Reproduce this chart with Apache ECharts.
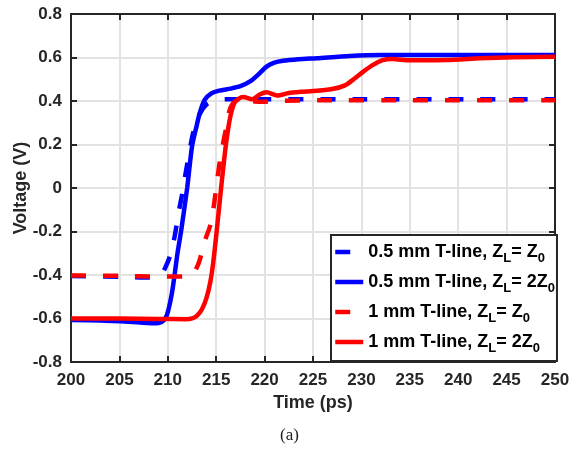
<!DOCTYPE html>
<html>
<head>
<meta charset="utf-8">
<script src="https://cdn.jsdelivr.net/npm/echarts@6/dist/echarts.min.js"></script>
<style>
  html, body { margin: 0; padding: 0; background: #fff; }
  #chart { width: 579px; height: 452px; }
</style>
</head>
<body>
<div id="chart"></div>
<script>
// Axis ticks
const xTicks = ['200', '205', '210', '215', '220', '225', '230', '235', '240', '245', '250'];
const yTicks = ['-0.8', '-0.6', '-0.4', '-0.2', '0', '0.2', '0.4', '0.6', '0.8'];

// Legend entries (rich text with subscripts)
const seriesNames = [
  '0.5 mm T-line, ZL = Z0',
  '0.5 mm T-line, ZL = 2Z0',
  '1 mm T-line, ZL = Z0',
  '1 mm T-line, ZL = 2Z0'
];
const legendLabels = [
  '0.5 mm T-line, Z{sub|L}{eq|= Z}{sub|0}',
  '0.5 mm T-line, Z{sub|L}{eq|= 2Z}{sub|0}',
  '1 mm T-line, Z{sub|L}{eq|= Z}{sub|0}',
  '1 mm T-line, Z{sub|L}{eq|= 2Z}{sub|0}'
];

// 0.5 mm T-line, matched load (ps, V)
const tShortMatched = [200, 205, 208, 209.2, 209.7, 210.2, 210.7, 211.1, 211.5, 211.9, 212.6, 213.3, 214.0, 214.8, 216, 220, 230, 240, 250];
const vShortMatched = [-0.405, -0.408, -0.412, -0.405, -0.37, -0.316, -0.224, -0.116, -0.024, 0.083, 0.25, 0.34, 0.385, 0.403, 0.408, 0.408, 0.408, 0.408, 0.408];

// 0.5 mm T-line, 2Z0 load
const tShortOpen = [200, 203, 206, 208.5, 209.4, 209.9, 210.4, 210.7, 211.0, 211.4, 212.0, 212.5, 213.0, 213.3, 213.8, 214.5, 215.3, 216.5, 217.5, 218.5, 219.3, 220.2, 221.0, 221.9, 223.5, 225.4, 228.8, 232, 240, 250];
const vShortOpen = [-0.607, -0.609, -0.615, -0.622, -0.615, -0.585, -0.49, -0.40, -0.30, -0.19, 0.0, 0.19, 0.29, 0.345, 0.405, 0.435, 0.448, 0.457, 0.468, 0.49, 0.52, 0.558, 0.576, 0.585, 0.592, 0.597, 0.607, 0.611, 0.611, 0.611];

// 1 mm T-line, matched load
const tLongMatched = [200, 205, 209, 212.0, 212.6, 213.0, 213.3, 213.8, 214.4, 214.7, 215.0, 215.3, 215.6, 216.0, 216.4, 216.9, 217.6, 219, 220, 222, 226, 235, 250];
const vLongMatched = [-0.402, -0.404, -0.407, -0.407, -0.395, -0.365, -0.331, -0.247, -0.17, -0.10, 0.0, 0.1, 0.18, 0.27, 0.36, 0.397, 0.405, 0.398, 0.397, 0.401, 0.403, 0.403, 0.403];

// 1 mm T-line, 2Z0 load
const tLongOpen = [200, 205, 209, 211.9, 212.6, 213.0, 213.5, 214.0, 214.4, 214.7, 215.0, 215.3, 215.6, 215.95, 216.3, 216.6, 216.9, 217.3, 217.8, 218.7, 219.5, 220.2, 221.3, 222.5, 223.7, 225.4, 227.1, 228.3, 229.2, 230.2, 231.2, 232.2, 233.2, 235.0, 238.8, 242.3, 245.7, 250];
const vLongOpen = [-0.600, -0.600, -0.602, -0.603, -0.598, -0.588, -0.560, -0.505, -0.43, -0.34, -0.22, -0.09, 0.04, 0.18, 0.29, 0.355, 0.392, 0.41, 0.418, 0.408, 0.43, 0.44, 0.425, 0.437, 0.442, 0.447, 0.456, 0.472, 0.500, 0.535, 0.566, 0.588, 0.593, 0.587, 0.588, 0.596, 0.601, 0.604];

const zip = (t, v) => t.map((x, i) => [x, v[i]]);

const BLUE = '#0000ff';
const RED = '#ff0000';
const AXIS = '#262626';
const GRIDC = '#e2e2e2';
const FONT = '"Liberation Sans", Arial, Helvetica, sans-serif';
const DASH = [15, 17];

function lineSeries(name, data, color, dashed) {
  return {
    name: name,
    type: 'line',
    data: data,
    xAxisIndex: 0,
    yAxisIndex: 0,
    showSymbol: false,
    symbol: 'none',
    smooth: 0.25,
    lineStyle: { color: color, width: 4.5, type: dashed ? DASH : 'solid', cap: 'butt' },
    itemStyle: { color: color },
    emphasis: { disabled: true },
    animation: false,
    z: 3
  };
}

const chart = echarts.init(document.getElementById('chart'), null, { renderer: 'canvas' });

const tickFmtX = v => { const i = xTicks.indexOf(String(Math.round(v))); return i >= 0 ? xTicks[i] : ''; };
const tickFmtY = v => { const s = String(Math.round(v * 10) / 10); return yTicks.indexOf(s) >= 0 ? s : ''; };

const frameAxis = {
  show: true,
  axisLine: { show: true, onZero: false, lineStyle: { color: AXIS, width: 2 } },
  axisTick: { show: true, inside: true, length: 6, lineStyle: { color: AXIS, width: 2 } },
  axisLabel: { show: false },
  splitLine: { show: false }
};

chart.setOption({
  animation: false,
  backgroundColor: '#ffffff',
  grid: { left: 71, right: 24, top: 14, bottom: 90, containLabel: false, outerBoundsMode: 'none' },
  xAxis: [
    {
      type: 'value', min: 200, max: 250, interval: 5, position: 'bottom',
      name: 'Time (ps)', nameLocation: 'middle', nameGap: 32, nameMoveOverlap: false,
      nameTextStyle: { color: AXIS, fontFamily: FONT, fontWeight: 'bold', fontSize: 18 },
      axisLine: { show: true, onZero: false, lineStyle: { color: AXIS, width: 2 } },
      axisTick: { show: true, inside: true, length: 6, lineStyle: { color: AXIS, width: 2 } },
      axisLabel: { color: AXIS, fontFamily: FONT, fontWeight: 'bold', fontSize: 17, margin: 10, formatter: tickFmtX },
      splitLine: { show: true, lineStyle: { color: GRIDC, width: 2 } }
    },
    Object.assign({ type: 'value', min: 200, max: 250, interval: 5, position: 'top' }, frameAxis)
  ],
  yAxis: [
    {
      type: 'value', min: -0.8, max: 0.8, interval: 0.2, position: 'left',
      name: 'Voltage (V)', nameLocation: 'middle', nameGap: 41, nameRotate: 90, nameMoveOverlap: false,
      nameTextStyle: { color: AXIS, fontFamily: FONT, fontWeight: 'bold', fontSize: 18 },
      axisLine: { show: true, onZero: false, lineStyle: { color: AXIS, width: 2 } },
      axisTick: { show: true, inside: true, length: 6, lineStyle: { color: AXIS, width: 2 } },
      axisLabel: { color: AXIS, fontFamily: FONT, fontWeight: 'bold', fontSize: 17, margin: 9, formatter: tickFmtY },
      splitLine: { show: true, lineStyle: { color: GRIDC, width: 2 } }
    },
    Object.assign({ type: 'value', min: -0.8, max: 0.8, interval: 0.2, position: 'right' }, frameAxis)
  ],
  legend: {
    show: true,
    orient: 'vertical',
    left: 331,
    top: 235,
    padding: [4, 2, 6, 2],
    itemGap: 4,
    itemWidth: 28,
    itemHeight: 12,
    backgroundColor: '#ffffff',
    borderColor: AXIS,
    borderWidth: 2,
    borderRadius: 0,
    selectedMode: false,
    data: seriesNames,
    itemStyle: { opacity: 0 },
    lineStyle: { width: 4.5 },
    formatter: name => legendLabels[seriesNames.indexOf(name)],
    textStyle: {
      color: '#000',
      fontFamily: FONT,
      fontWeight: 'bold',
      fontSize: 18,
      lineHeight: 26,
      rich: {
        sub: { fontFamily: FONT, fontWeight: 'bold', fontSize: 13, lineHeight: 13, verticalAlign: 'bottom', color: '#000' },
        eq: { fontFamily: FONT, fontWeight: 'bold', fontSize: 18, lineHeight: 26, color: '#000' }
      }
    }
  },
  graphic: [
    {
      type: 'text', left: 280, top: 427,
      style: { text: '(a)', fill: '#222', font: '17px "Liberation Serif", "Times New Roman", serif' }
    }
  ],
  series: [
    lineSeries(seriesNames[0], zip(tShortMatched, vShortMatched), BLUE, true),
    lineSeries(seriesNames[1], zip(tShortOpen, vShortOpen), BLUE, false),
    lineSeries(seriesNames[2], zip(tLongMatched, vLongMatched), RED, true),
    lineSeries(seriesNames[3], zip(tLongOpen, vLongOpen), RED, false)
  ]
});
</script>
</body>
</html>
